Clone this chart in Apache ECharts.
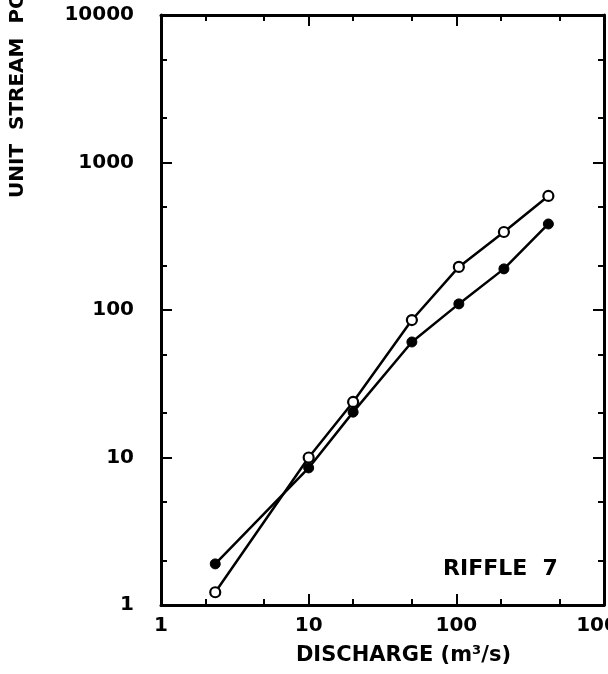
<!DOCTYPE html>
<html>
<head>
<meta charset="utf-8">
<script src="https://cdn.jsdelivr.net/npm/echarts@6/dist/echarts.min.js"></script>
<style>
  html, body { margin: 0; padding: 0; background: #fff; }
  #chart { width: 608px; height: 674px; }
</style>
</head>
<body>
<div id="chart"></div>
<script>
// discharge (m3/s) of each measured point
var discharge = [2.33, 10, 20, 50, 104, 210, 420]
// unit stream power, open circles and filled circles
var openPower = [1.22, 10, 23.8, 85.5, 196, 338, 593]
var filledPower = [1.9, 8.5, 20.3, 60.7, 110, 190, 383]

var xMajor = [1, 10, 100, 1000]
var xMinor = [2, 5, 20, 50, 200, 500]
var yMajor = [1, 10, 100, 1000, 10000]
var yMinor = [2, 5, 20, 50, 200, 500, 2000, 5000]

var font = 'DejaVu Sans'

function pairs(xs, ys) {
  var out = []
  for (var i = 0; i < xs.length; i++) out.push([xs[i], ys[i]])
  return out
}

function logAxis(pos, ticks, len, showLine, labels, extra) {
  var vertical = pos === 'left' || pos === 'right'
  var ax = {
    type: 'log',
    logBase: 10,
    position: pos,
    min: 1,
    max: vertical ? 10000 : 1000,
    splitLine: { show: false },
    axisLine: { show: showLine, lineStyle: { color: '#000', width: 3 } },
    axisTick: { show: true, inside: true, length: len, customValues: ticks,
      lineStyle: { color: '#000', width: 2 } },
    axisLabel: { show: false }
  }
  if (labels) {
    ax.axisLabel = {
      show: true,
      customValues: labels,
      color: '#000',
      fontFamily: font,
      fontWeight: 'bold',
      fontSize: 20,
      formatter: function (v) { return String(v) }
    }
  }
  return Object.assign(ax, extra || {})
}

var chart = echarts.init(document.getElementById('chart'))

var xAxes = [
  logAxis('bottom', xMajor, 11, true, xMajor, {
    name: 'DISCHARGE (m³/s)',
    nameLocation: 'middle',
    nameGap: 40,
    nameTextStyle: { color: '#000', fontFamily: font, fontWeight: 'bold', fontSize: 21, padding: [0, 0, 0, 42] }
  }),
  logAxis('bottom', xMinor, 6, false),
  logAxis('top', xMajor, 11, true),
  logAxis('top', xMinor, 6, false)
]
xAxes[0].axisLabel.margin = 11

var yAxes = [
  logAxis('left', yMajor, 11, true, yMajor),
  logAxis('left', yMinor, 6, false),
  logAxis('right', yMajor, 11, true),
  logAxis('right', yMinor, 6, false)
]
yAxes[0].axisLabel.margin = 27

chart.setOption({
  backgroundColor: '#fff',
  animation: false,
  grid: { left: 161, right: 4, top: 15, bottom: 69, containLabel: false, outerBoundsMode: 'none' },
  xAxis: xAxes,
  yAxis: yAxes,
  graphic: [{
    type: 'text',
    x: 18,
    y: 198,
    rotation: Math.PI / 2,
    style: {
      text: 'UNIT  STREAM  POWER  (W/m²)',
      font: 'bold 20px "DejaVu Sans"',
      fill: '#000',
      align: 'left',
      verticalAlign: 'middle',
      textAlign: 'left',
      textVerticalAlign: 'middle'
    }
  }, {
    type: 'text',
    x: 443,
    y: 569,
    style: {
      text: 'RIFFLE  7',
      font: 'bold 22px "DejaVu Sans"',
      fill: '#000',
      align: 'left',
      verticalAlign: 'middle',
      textAlign: 'left',
      textVerticalAlign: 'middle'
    }
  }],
  series: [{
    name: 'open',
    type: 'line',
    data: pairs(discharge, openPower),
    symbol: 'circle',
    symbolSize: 10,
    lineStyle: { color: '#000', width: 2.5 },
    itemStyle: { color: '#fff', borderColor: '#000', borderWidth: 2.2 },
    z: 3
  }, {
    name: 'filled',
    type: 'line',
    data: pairs(discharge, filledPower),
    symbol: 'circle',
    symbolSize: 10,
    lineStyle: { color: '#000', width: 2.5 },
    itemStyle: { color: '#000', borderColor: '#000', borderWidth: 1 },
    z: 3
  }]
})
</script>
</body>
</html>
